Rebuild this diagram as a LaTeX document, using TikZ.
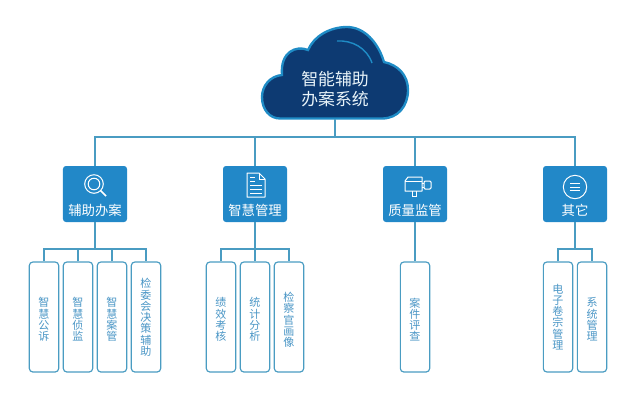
\documentclass[tikz,border=0pt]{standalone}
\usepackage{fontspec}
\setmainfont{Noto Sans CJK SC}
\usetikzlibrary{calc}
\definecolor{navy}{HTML}{0D3A72}
\definecolor{skyline}{HTML}{1F8CC6}
\definecolor{boxblue}{HTML}{2288C8}
\definecolor{linkblue}{HTML}{4A9CC2}
\definecolor{leaftext}{HTML}{4A96C6}
\tikzset{
    topbox/.style={fill=boxblue,rounded corners=2.5pt,minimum width=1.92cm,minimum height=1.68cm,inner sep=0pt},
    toplabel/.style={text=white,font=\fontsize{11.4}{12}\selectfont,inner sep=0pt},
    leafbox/.style={draw=linkblue,line width=1pt,rounded corners=3pt,fill=white,minimum width=0.88cm,minimum height=3.3cm,inner sep=0pt},
    leaflabel/.style={inner sep=0pt,text=leaftext,align=center,font=\fontsize{9.4}{9.6}\selectfont},
    link/.style={draw=linkblue,line width=1pt},
    icon/.style={draw=white,line width=0.85pt}
}
\begin{document}
\begin{tikzpicture}[x=0.03cm,y=-0.03cm]
    \useasboundingbox (0,0) rectangle (640,407);

    % cloud
    \draw[draw=skyline,fill=navy,line width=2pt] (280,118.5) -- (382,118.5)
        .. controls (398,118.5) and (408,106) .. (408,90)
        .. controls (408,75) and (398,65) .. (384,62)
        .. controls (378,42) and (364,27) .. (347,27)
        .. controls (330,27) and (314,36) .. (308,50)
        .. controls (296,45) and (280,52) .. (282,75)
        .. controls (270,76) and (262,86) .. (262,97)
        .. controls (262,110) and (270,118.5) .. (280,118.5);
    \draw[draw=skyline,line width=1.2pt] (337,41) .. controls (352,40) and (367,48) .. (372,63);
    \node[text=white!90!skyline,align=center,font=\fontsize{14.4}{17.5}\selectfont,inner sep=0pt] (system) at (335,89) {智能辅助\\办案系统};
    \coordinate (cloudbase) at (335,119);
    \coordinate (mainbus) at (335,137);
    \draw[link] (cloudbase) -- (mainbus);

    % top boxes
    \node[topbox] (fuzhu) at (95,194) {};
    \node[topbox] (guanli) at (255,194) {};
    \node[topbox] (jianguan) at (415,194) {};
    \node[topbox] (qita) at (575,194) {};
    \node[toplabel] (fuzhulabel) at (95,210) {辅助办案};
    \node[toplabel] (guanlilabel) at (255,210) {智慧管理};
    \node[toplabel] (jianguanlabel) at (415,210) {质量监管};
    \node[toplabel] (qitalabel) at (575,210) {其它};

    \draw[link] (fuzhu.north) -- (fuzhu.north |- mainbus) -- (qita.north |- mainbus) -- (qita.north);
    \foreach \n in {guanli,jianguan}
        \draw[link] (\n.north) -- (\n.north |- mainbus);

    % icons
    \draw[icon] (94,184) circle (9.3);
    \draw[icon] (94,184) circle (5.8);
    \draw[icon,line width=1.5pt] (100.5,190.5) -- (106,196);
    \draw[icon,line join=round] (247,173) -- (259,173) -- (265,179) -- (265,197) -- (247,197) -- cycle;
    \draw[icon] (259,173) -- (259,179) -- (265,179);
    \foreach \y/\a in {177/255,181/255,185/262,189/262,193/262}
        \draw[icon,line width=0.7pt] (250,\y) -- (\a,\y);
    \draw[icon,line join=round] (405,181) -- (408,177) -- (422,177) -- (422,191) -- (405,191) -- cycle;
    \draw[icon] (405,181) -- (422,181);
    \draw[icon,rounded corners=1pt] (424,181) rectangle (431,189);
    \draw[icon] (422,183) -- (424,183) (422,187) -- (424,187);
    \draw[icon] (412,191) -- (412,196) -- (416,196) -- (416,191);
    \draw[icon] (575,187) circle (11.7);
    \foreach \y in {183.5,187,190.5}
        \draw[icon] (570,\y) -- (580,\y);

    % leaf boxes
    \node[leafbox] (gongsu) at (44,317) {};
    \node[leafbox] (zhenjian) at (78,317) {};
    \node[leafbox] (anguan) at (112,317) {};
    \node[leafbox] (juece) at (146,317) {};
    \node[leafbox] (jixiao) at (221,317) {};
    \node[leafbox] (tongji) at (255,317) {};
    \node[leafbox] (huaxiang) at (289,317) {};
    \node[leafbox] (pingcha) at (415,317) {};
    \node[leafbox] (juanzong) at (558,317) {};
    \node[leafbox] (xitong) at (592,317) {};
    \node[leaflabel] (gongsulabel) at (44,319.5) {智\\慧\\公\\诉};
    \node[leaflabel] (zhenjianlabel) at (78,319.5) {智\\慧\\侦\\监};
    \node[leaflabel] (anguanlabel) at (112,319.5) {智\\慧\\案\\管};
    \node[leaflabel] (juecelabel) at (146,317.5) {检\\委\\会\\决\\策\\辅\\助};
    \node[leaflabel] (jixiaolabel) at (221,319.5) {绩\\效\\考\\核};
    \node[leaflabel] (tongjilabel) at (255,319.5) {统\\计\\分\\析};
    \node[leaflabel] (huaxianglabel) at (289,320) {检\\察\\官\\画\\像};
    \node[leaflabel] (pingchalabel) at (415,319.5) {案\\件\\评\\查};
    \node[leaflabel] (juanzonglabel) at (558,317) {电\\子\\卷\\宗\\管\\理};
    \node[leaflabel] (xitonglabel) at (592,319.5) {系\\统\\管\\理};

    \coordinate (subbus) at (95,249);
    \draw[link] (fuzhu.south) -- (subbus);
    \draw[link] (guanli.south) -- (guanli.south |- subbus);
    \draw[link] (qita.south) -- (qita.south |- subbus);
    \draw[link] (jianguan.south) -- (pingcha.north);
    \draw[link] (gongsu.north) -- (gongsu.north |- subbus) -- (juece.north |- subbus) -- (juece.north);
    \draw[link] (jixiao.north) -- (jixiao.north |- subbus) -- (huaxiang.north |- subbus) -- (huaxiang.north);
    \draw[link] (juanzong.north) -- (juanzong.north |- subbus) -- (xitong.north |- subbus) -- (xitong.north);
    \foreach \n in {zhenjian,anguan,tongji}
        \draw[link] (\n.north) -- (\n.north |- subbus);
\end{tikzpicture}
\end{document}
